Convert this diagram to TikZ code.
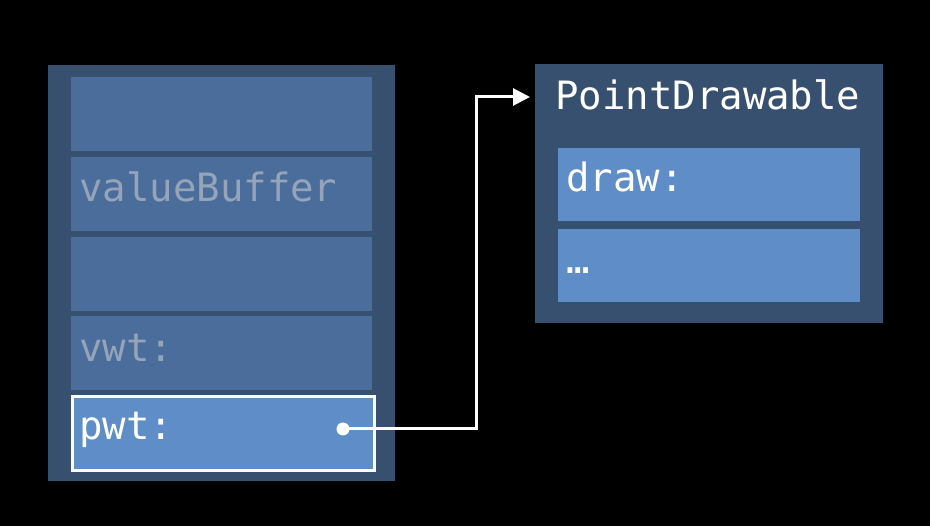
\documentclass[tikz,border=0pt]{standalone}
\usepackage{fontspec}
\newfontfamily\monofont{DejaVu Sans Mono}
\usetikzlibrary{arrows.meta}
\definecolor{outerblue}{HTML}{37506F}
\definecolor{dimcell}{HTML}{4A6D9B}
\definecolor{brightcell}{HTML}{5F8DC8}
\definecolor{dimtext}{HTML}{95A4B8}
\tikzset{
  panel/.style={fill=outerblue, draw=none, anchor=north west, inner sep=0pt},
  dimbox/.style={fill=dimcell, draw=none, anchor=north west, inner sep=0pt, minimum width=301pt, minimum height=74pt},
  brightbox/.style={fill=brightcell, draw=none, anchor=north west, inner sep=0pt, minimum width=302pt, minimum height=73pt},
  celltext/.style={anchor=base west, inner sep=0pt, font=\monofont\fontsize{39}{39}\selectfont},
  dimlabel/.style={celltext, text=dimtext},
  brightlabel/.style={celltext, text=white},
  link/.style={draw=white, line width=3pt},
}
\begin{document}
\begin{tikzpicture}[x=1pt,y=-1pt]
\useasboundingbox (0,0) rectangle (930,526);
\fill[black] (0,0) rectangle (930,526);
% left panel
\node[panel, minimum width=347pt, minimum height=416pt] (mem) at (48,65) {};
\node[dimbox] (c1) at (71,77) {};
\node[dimbox] (c2) at (71,157) {};
\node[dimbox] (c3) at (71,237) {};
\node[dimbox] (c4) at (71,316) {};
\node[brightbox, draw=white, line width=3pt, minimum width=302pt, minimum height=74pt] (c5) at (70.5,395.5) {};
\node[dimlabel] (t2) at (79,202) {valueBuffer};
\node[dimlabel] (t4) at (79,362) {vwt:};
\node[brightlabel] (t5) at (79,440) {pwt:};
% right panel
\node[panel, minimum width=348pt, minimum height=259pt] (pd) at (535,64) {};
\node[celltext, text=white] (title) at (555,110) {PointDrawable};
\node[brightbox] (d1) at (558,148) {};
\node[brightbox] (d2) at (558,229) {};
\node[brightlabel] (td1) at (566,192) {draw:};
\node[brightlabel] (td2) at (566,274) {…};
% connector
\node[circle, fill=white, inner sep=0pt, minimum size=13pt] (dot) at (343,429) {};
\coordinate (k1) at (476,429);
\coordinate (k2) at (476,97);
\coordinate (tgt) at (530,97);
\draw[link, -{Triangle[length=17pt,width=17pt]}] (dot.center) -- (k1) -- (k2) -- (tgt);
\end{tikzpicture}
\end{document}
